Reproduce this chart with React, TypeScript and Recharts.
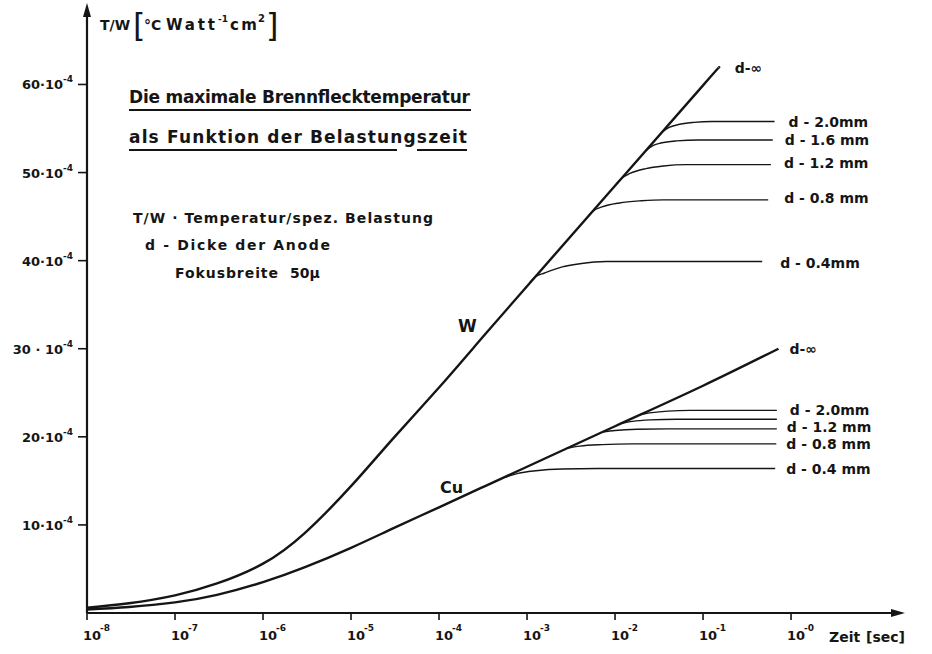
import React from 'react';
import { LineChart, Line, XAxis, YAxis, Customized } from 'recharts';

// Zeit in sec, T/W in Einheiten von 10^-4
const X_TICKS = [1e-8, 1e-7, 1e-6, 1e-5, 1e-4, 1e-3, 1e-2, 1e-1, 1];
const X_TICK_EXP = ['-8', '-7', '-6', '-5', '-4', '-3', '-2', '-1', '-0'];
const Y_TICKS = [10, 20, 30, 40, 50, 60];
const Y_TICK_LABELS = ['10·10', '20·10', '30 · 10', '40·10', '50·10', '60·10'];

// Wolfram, d = unendlich
const W_T = [1e-8, 3e-8, 1e-7, 3e-7, 1e-6, 3e-6, 1e-5, 3e-5, 1e-4, 3e-4, 1e-3, 1e-2, 1e-1, 0.151];
const W_V = [0.6, 1.1, 2.0, 3.35, 5.6, 9.1, 14.4, 19.8, 25.6, 31.1, 37.1, 48.5, 59.9, 61.9];

// Wolfram, endliche Dicke
const W04_T = [1.07e-3, 1.26e-3, 1.58e-3, 2.51e-3, 3.98e-3, 7.9e-3, 0.47];
const W04_V = [37.5, 38.2, 38.6, 39.3, 39.65, 39.9, 39.9];
const W08_T = [5.0e-3, 5.75e-3, 7.1e-3, 1.12e-2, 2.0e-2, 3.55e-2, 0.55];
const W08_V = [45.1, 45.7, 46.1, 46.55, 46.8, 46.9, 46.9];
const W12_T = [1e-2, 1.17e-2, 1.48e-2, 2.24e-2, 3.55e-2, 6.3e-2, 0.59];
const W12_V = [48.5, 49.3, 49.9, 50.45, 50.75, 50.9, 50.9];
const W16_T = [2.24e-2, 2.63e-2, 3.31e-2, 5.0e-2, 8.9e-2, 0.62];
const W16_V = [52.5, 53.0, 53.35, 53.6, 53.7, 53.7];
const W20_T = [3.47e-2, 4.07e-2, 5.25e-2, 7.9e-2, 0.126, 0.65];
const W20_V = [54.65, 55.1, 55.45, 55.7, 55.8, 55.8];

// Kupfer, d = unendlich
const CU_T = [1e-8, 3e-8, 1e-7, 3e-7, 1e-6, 3e-6, 1e-5, 3e-5, 1e-4, 3e-4, 1e-3, 1e-2, 1e-1, 0.72];
const CU_V = [0.4, 0.68, 1.2, 2.05, 3.5, 5.2, 7.4, 9.6, 12.0, 14.2, 16.6, 21.2, 25.8, 30.0];

// Kupfer, endliche Dicke
const CU04_T = [5.6e-4, 7.9e-4, 1.26e-3, 2.51e-3, 6.3e-3, 0.66];
const CU04_V = [15.4, 15.85, 16.15, 16.35, 16.4, 16.4];
const CU08_T = [2.82e-3, 3.98e-3, 7.1e-3, 1.58e-2, 0.68];
const CU08_V = [18.7, 18.95, 19.12, 19.2, 19.2];
const CU12_T = [7.2e-3, 1e-2, 1.78e-2, 3.98e-2, 0.69];
const CU12_V = [20.55, 20.72, 20.86, 20.9, 20.9];
const CU16_T = [1.15e-2, 1.58e-2, 2.51e-2, 5.0e-2, 0.69];
const CU16_V = [21.5, 21.75, 21.92, 22.0, 22.0];
const CU20_T = [1.9e-2, 2.63e-2, 3.98e-2, 7.1e-2, 0.69];
const CU20_V = [22.5, 22.75, 22.92, 23.0, 23.0];

const FONT = '"DejaVu Sans", Arial, sans-serif';
const INK = '#151515';

const pts = (t: number[], v: number[]) => t.map((x, i) => ({ t: x, v: v[i] }));

const series = [
  { key: 'W', data: pts(W_T, W_V), main: true, label: 'd-∞', dx: 16, dy: 5 },
  { key: 'W20', data: pts(W20_T, W20_V), label: 'd - 2.0mm', dx: 14, dy: 6 },
  { key: 'W16', data: pts(W16_T, W16_V), label: 'd - 1.6 mm', dx: 12, dy: 5 },
  { key: 'W12', data: pts(W12_T, W12_V), label: 'd - 1.2 mm', dx: 13, dy: 3 },
  { key: 'W08', data: pts(W08_T, W08_V), label: 'd -  0.8 mm', dx: 16, dy: 3 },
  { key: 'W04', data: pts(W04_T, W04_V), label: 'd -  0.4mm', dx: 18, dy: 6 },
  { key: 'Cu', data: pts(CU_T, CU_V), main: true, label: 'd-∞', dx: 11, dy: 5 },
  { key: 'Cu20', data: pts(CU20_T, CU20_V), label: 'd - 2.0mm', dx: 13, dy: 5 },
  { key: 'Cu16', data: pts(CU16_T, CU16_V) },
  { key: 'Cu12', data: pts(CU12_T, CU12_V), label: 'd - 1.2 mm', dx: 10, dy: 3 },
  { key: 'Cu08', data: pts(CU08_T, CU08_V), label: 'd - 0.8 mm', dx: 10, dy: 5 },
  { key: 'Cu04', data: pts(CU04_T, CU04_V), label: 'd - 0.4 mm', dx: 11, dy: 5 },
];

const XTick = (props: any) => {
  const { x, y, index } = props;
  return (
    <g fontFamily={FONT} fontWeight={700} fill={INK}>
      <text x={x - 4} y={y + 18} fontSize={13}>
        10
      </text>
      <text x={x + 13} y={y + 9} fontSize={9}>
        {X_TICK_EXP[index]}
      </text>
    </g>
  );
};

const YTick = (props: any) => {
  const { y, index } = props;
  return (
    <text x={73} y={y + 5} textAnchor="end" fontSize={13} fontWeight={700} fontFamily={FONT} fill={INK}>
      {Y_TICK_LABELS[index]}
      <tspan dy={-7} fontSize={9}>-4</tspan>
    </text>
  );
};

const endLabel = (text: string, dx: number, dy: number, last: number) => (props: any) => {
  const { x, y, index } = props;
  if (index !== last) return null;
  return (
    <text x={x + dx} y={y + dy} fontSize={14} fontWeight={700} fontFamily={FONT} fill={INK}>
      {text}
    </text>
  );
};

const Annotations = () => (
  <g fontFamily={FONT} fill={INK} fontWeight={700}>
    {/* Pfeilspitzen */}
    <polygon points="87,3 83,17 91,17" fill={INK} />
    <polygon points="905,613 891,609 891,617" fill={INK} />

    {/* Achsenbeschriftung */}
    <text x={100} y={30} fontSize={14}>T/W</text>
    <text x={133} y={36} fontSize={32} fontWeight={400}>[</text>
    <text x={144} y={30} fontSize={14}>°C</text>
    <text x={166} y={30} fontSize={15} textLength={49}>Watt</text>
    <text x={218} y={22} fontSize={9}>-1</text>
    <text x={230} y={30} fontSize={15} textLength={27}>cm</text>
    <text x={258} y={22} fontSize={10}>2</text>
    <text x={266} y={36} fontSize={32} fontWeight={400}>]</text>
    <text x={829} y={642} fontSize={14}>Zeit</text>
    <text x={866} y={642} fontSize={14}>[sec]</text>

    {/* Titel */}
    <text x={129} y={103} fontSize={17} textLength={341}>
      Die maximale Brennflecktemperatur
    </text>
    <line x1={129} y1={110} x2={471} y2={110} stroke={INK} strokeWidth={2} />
    <text x={129} y={143} fontSize={17} textLength={338}>
      als Funktion der Belastungszeit
    </text>
    <line x1={129} y1={150} x2={397} y2={150} stroke={INK} strokeWidth={2} />
    <line x1={417} y1={150} x2={467} y2={150} stroke={INK} strokeWidth={2} />

    {/* Legende */}
    <text x={133} y={223} fontSize={14} textLength={300}>T/W · Temperatur/spez. Belastung</text>
    <text x={145} y={250} fontSize={14} textLength={185}>d - Dicke der Anode</text>
    <text x={175} y={278} fontSize={14} textLength={103}>Fokusbreite</text>
    <text x={290} y={278} fontSize={14}>50µ</text>

    {/* Werkstoffe */}
    <text x={458} y={332} fontSize={17}>W</text>
    <text x={440} y={493} fontSize={16}>Cu</text>
  </g>
);

export default function App() {
  return (
    <div style={{ position: 'absolute', left: 0, top: 0, width: 932, height: 654, background: '#fff' }}>
      <LineChart width={932} height={654} margin={{ top: 14, right: 32, bottom: 0, left: 0 }}>
        <XAxis
          dataKey="t"
          type="number"
          scale="log"
          domain={[1e-8, 17.3]}
          allowDataOverflow
          ticks={X_TICKS}
          interval={0}
          height={41}
          tickSize={7}
          tick={<XTick />}
          axisLine={{ stroke: INK, strokeWidth: 2.2 }}
          tickLine={{ stroke: INK, strokeWidth: 1.6 }}
        />
        <YAxis
          dataKey="v"
          type="number"
          domain={[0, 68]}
          allowDataOverflow
          ticks={Y_TICKS}
          interval={0}
          width={87}
          tickSize={9}
          tick={<YTick />}
          axisLine={{ stroke: INK, strokeWidth: 2.2 }}
          tickLine={{ stroke: INK, strokeWidth: 1.6 }}
        />
        {series.map((s) => (
          <Line
            key={s.key}
            data={s.data}
            dataKey="v"
            type={s.main ? 'natural' : 'monotone'}
            stroke={INK}
            strokeWidth={s.main ? 2.4 : 1.4}
            dot={false}
            activeDot={false}
            isAnimationActive={false}
            label={s.label ? endLabel(s.label, s.dx ?? 10, s.dy ?? 5, s.data.length - 1) : false}
          />
        ))}
        <Customized component={Annotations} />
      </LineChart>
    </div>
  );
}
